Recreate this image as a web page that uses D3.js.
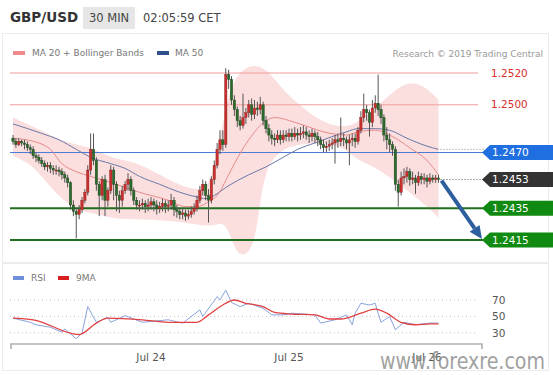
<!DOCTYPE html>
<html>
<head>
<meta charset="utf-8">
<script src="https://d3js.org/d3.v7.min.js"></script>
<style>
  body { margin: 0; background: #fff; }
  text { font-family: "DejaVu Sans", Verdana, sans-serif; }
</style>
</head>
<body>
<svg id="chart" width="553" height="375"></svg>
<script>
// 30 min candles, Jul 23 00:00 -> Jul 26 02:00
var startTime = Date.UTC(2019, 6, 23, 0, 0);
var barMinutes = 30;

var opens = [
1.2479,1.2477,1.2475,1.2477,1.2476,1.2475,1.2473,1.2472,1.2468,1.2467,
1.2465,1.2463,1.2461,1.2462,1.2460,1.2459,1.2459,1.2458,1.2456,1.2454,
1.2451,1.2437,1.2433,1.2431,1.2434,1.2440,1.2445,1.2459,1.2472,1.2465,
1.2450,1.2443,1.2453,1.2440,1.2446,1.2459,1.2450,1.2443,1.2440,1.2446,
1.2450,1.2453,1.2446,1.2440,1.2437,1.2437,1.2438,1.2436,1.2437,1.2439,
1.2437,1.2435,1.2436,1.2438,1.2436,1.2437,1.2440,1.2434,1.2433,1.2431,
1.2432,1.2430,1.2431,1.2433,1.2435,1.2440,1.2446,1.2450,1.2443,1.2440,
1.2453,1.2462,1.2472,1.2478,1.2475,1.2519,1.2516,1.2503,1.2497,1.2490,
1.2487,1.2492,1.2495,1.2500,1.2494,1.2498,1.2497,1.2500,1.2490,1.2485,
1.2481,1.2479,1.2478,1.2481,1.2478,1.2481,1.2480,1.2482,1.2480,1.2482,
1.2481,1.2482,1.2483,1.2481,1.2480,1.2482,1.2480,1.2478,1.2475,1.2473,
1.2474,1.2475,1.2476,1.2478,1.2477,1.2479,1.2478,1.2476,1.2478,1.2479,
1.2477,1.2484,1.2492,1.2497,1.2495,1.2489,1.2498,1.2501,1.2497,1.2492,
1.2481,1.2478,1.2475,1.2472,1.2450,1.2445,1.2454,1.2455,1.2458,1.2453,
1.2454,1.2451,1.2455,1.2453,1.2454,1.2452,1.2454,1.2453,1.2454
];
var highs = [
1.2481,1.2479,1.2479,1.2478,1.2478,1.2477,1.2475,1.2474,1.2470,1.2469,
1.2467,1.2465,1.2464,1.2464,1.2462,1.2462,1.2461,1.2460,1.2458,1.2456,
1.2452,1.2440,1.2435,1.2437,1.2442,1.2447,1.2462,1.2482,1.2482,1.2467,
1.2452,1.2455,1.2456,1.2448,1.2462,1.2461,1.2452,1.2446,1.2449,1.2452,
1.2457,1.2455,1.2448,1.2442,1.2440,1.2441,1.2440,1.2441,1.2442,1.2441,
1.2440,1.2439,1.2441,1.2440,1.2440,1.2444,1.2442,1.2437,1.2435,1.2435,
1.2434,1.2434,1.2436,1.2438,1.2443,1.2449,1.2453,1.2452,1.2447,1.2455,
1.2465,1.2476,1.2484,1.2484,1.2523,1.2522,1.2518,1.2506,1.2499,1.2493,
1.2507,1.2498,1.2503,1.2504,1.2503,1.2502,1.2505,1.2502,1.2493,1.2488,
1.2484,1.2482,1.2484,1.2484,1.2484,1.2484,1.2485,1.2485,1.2486,1.2485,
1.2486,1.2487,1.2486,1.2484,1.2485,1.2484,1.2483,1.2480,1.2478,1.2477,
1.2478,1.2479,1.2481,1.2482,1.2492,1.2482,1.2480,1.2481,1.2482,1.2482,
1.2486,1.2496,1.2507,1.2500,1.2497,1.2503,1.2506,1.2519,1.2500,1.2494,
1.2486,1.2482,1.2477,1.2474,1.2453,1.2458,1.2460,1.2461,1.2460,1.2458,
1.2456,1.2458,1.2457,1.2457,1.2456,1.2457,1.2456,1.2456,1.2456
];
var lows = [
1.2475,1.2473,1.2474,1.2474,1.2472,1.2471,1.2469,1.2466,1.2464,1.2463,
1.2461,1.2459,1.2458,1.2457,1.2456,1.2456,1.2455,1.2453,1.2451,1.2448,
1.2434,1.2430,1.2416,1.2428,1.2432,1.2438,1.2443,1.2456,1.2462,1.2446,
1.2430,1.2440,1.2430,1.2436,1.2444,1.2440,1.2433,1.2432,1.2436,1.2444,
1.2446,1.2443,1.2437,1.2434,1.2433,1.2434,1.2432,1.2433,1.2434,1.2433,
1.2431,1.2432,1.2433,1.2432,1.2433,1.2434,1.2430,1.2429,1.2428,1.2428,
1.2427,1.2428,1.2429,1.2431,1.2433,1.2438,1.2443,1.2440,1.2426,1.2438,
1.2450,1.2460,1.2469,1.2471,1.2473,1.2510,1.2500,1.2493,1.2486,1.2484,
1.2485,1.2488,1.2492,1.2490,1.2491,1.2493,1.2494,1.2487,1.2482,1.2477,
1.2475,1.2474,1.2476,1.2475,1.2476,1.2477,1.2477,1.2477,1.2478,1.2477,
1.2478,1.2479,1.2478,1.2476,1.2477,1.2476,1.2474,1.2472,1.2470,1.2470,
1.2471,1.2472,1.2463,1.2473,1.2474,1.2474,1.2472,1.2462,1.2474,1.2473,
1.2475,1.2482,1.2489,1.2490,1.2480,1.2486,1.2495,1.2493,1.2488,1.2477,
1.2472,1.2470,1.2468,1.2446,1.2436,1.2443,1.2450,1.2451,1.2449,1.2450,
1.2444,1.2449,1.2450,1.2450,1.2448,1.2450,1.2451,1.2451,1.2451
];
var closes = [
1.2477,1.2475,1.2477,1.2476,1.2475,1.2473,1.2472,1.2468,1.2467,1.2465,
1.2463,1.2461,1.2462,1.2460,1.2459,1.2459,1.2458,1.2456,1.2454,1.2451,
1.2437,1.2433,1.2431,1.2434,1.2440,1.2445,1.2459,1.2472,1.2465,1.2450,
1.2443,1.2453,1.2440,1.2446,1.2459,1.2450,1.2443,1.2440,1.2446,1.2450,
1.2453,1.2446,1.2440,1.2437,1.2437,1.2438,1.2436,1.2437,1.2439,1.2437,
1.2435,1.2436,1.2438,1.2436,1.2437,1.2440,1.2434,1.2433,1.2431,1.2432,
1.2430,1.2431,1.2433,1.2435,1.2440,1.2446,1.2450,1.2443,1.2440,1.2453,
1.2462,1.2472,1.2478,1.2475,1.2519,1.2516,1.2503,1.2497,1.2490,1.2487,
1.2492,1.2495,1.2500,1.2494,1.2498,1.2497,1.2500,1.2490,1.2485,1.2481,
1.2479,1.2478,1.2481,1.2478,1.2481,1.2480,1.2482,1.2480,1.2482,1.2481,
1.2482,1.2483,1.2481,1.2480,1.2482,1.2480,1.2478,1.2475,1.2473,1.2474,
1.2475,1.2476,1.2478,1.2477,1.2479,1.2478,1.2476,1.2478,1.2479,1.2477,
1.2484,1.2492,1.2497,1.2495,1.2489,1.2498,1.2501,1.2497,1.2492,1.2481,
1.2478,1.2475,1.2472,1.2450,1.2445,1.2454,1.2455,1.2458,1.2453,1.2454,
1.2451,1.2455,1.2453,1.2454,1.2452,1.2454,1.2453,1.2454,1.2453
];

// indicator readings (bar index, value)
var ma20Idx = [0,9,13,17,22,27,36,44,54,60,64,68,71,75,77,82,88,91,98,103,108,116,120,126,132,138,144,148];
var ma20Val = [1.2479,1.2476,1.2472,1.2463,1.2458,1.2455,1.2450,1.2445,1.2440,1.2436,1.2436,1.2439,1.2443,1.2456,1.2463,1.2478,1.2490,1.2492,1.2489,1.2486,1.2483,1.2481,1.2483,1.2484,1.2480,1.2473,1.2465,1.2456];
var ma50Idx = [0,10,16,22,27,34,39,44,51,58,64,67,70,74,82,88,94,99,105,111,116,120,126,131,137,144,148];
var ma50Val = [1.2488,1.2482,1.2478,1.2472,1.2467,1.2463,1.2460,1.2455,1.2450,1.2445,1.2442,1.2441,1.2443,1.2448,1.2456,1.2461,1.2467,1.2472,1.2476,1.2480,1.2483,1.2485,1.2485,1.2484,1.2479,1.2474,1.2472];
var bbUpIdx = [0,10,16,22,27,34,39,44,54,60,66,69,72,75,79,83,86,89,94,99,105,111,116,120,126,132,136,139,144,148];
var bbUpVal = [1.2492,1.2484,1.2478,1.2475,1.2473,1.2467,1.2465,1.2463,1.2453,1.2448,1.2446,1.2453,1.2478,1.2509,1.2521,1.2525,1.2524,1.2521,1.2509,1.2501,1.2492,1.2487,1.2486,1.2489,1.2498,1.2508,1.2513,1.2514,1.2511,1.2503];
var bbLoIdx = [0,6,10,16,22,27,34,39,48,60,66,70,74,77,80,84,86,88,91,94,99,105,111,116,120,126,132,138,144,148];
var bbLoVal = [1.2468,1.2463,1.2455,1.2442,1.2434,1.2432,1.2429,1.2428,1.2428,1.2426,1.2424,1.2424,1.2427,1.2409,1.2404,1.2411,1.2440,1.2459,1.2467,1.2472,1.2475,1.2476,1.2475,1.2472,1.2465,1.2461,1.2453,1.2445,1.2436,1.2429];

var rsiIdx = [0,6,8,13,17,18,22,24,26,29,33,34,39,45,54,59,65,66,71,72,74,76,79,82,87,90,94,97,105,107,112,116,118,119,121,124,126,127,128,131,133,136,140,145,148];
var rsiVal = [48,43,40,37,31,35,23,30,62,43,49,43,51,43,46,42,58,50,74,70,82,67,62,66,60,52,52,54,52,42,46,52,40,54,66,64,66,54,43,50,34,43,40,42,42];
var rsiMaIdx = [0,7,23,29,33,45,54,64,68,73,77,81,87,91,97,105,110,114,121,126,130,135,140,145,148];
var rsiMaVal = [48,46,28,42,48,46,43,43,52,64,70,66,62,55,53,52,47,47,54,59,54,43,40,41,41];
var rsiLevels = [70, 50, 30];

var resistLevels = [1.2520, 1.2500];
var pivotLevel = 1.2470;
var supportLevels = [1.2435, 1.2415];
var lastPrice = 1.2453;
var target = 1.2415;

var tickDates = [Date.UTC(2019,6,24), Date.UTC(2019,6,25), Date.UTC(2019,6,26)];
var tickLabels = ["Jul 24", "Jul 25", "Jul 26"];

var svg = d3.select("#chart");
var times = closes.map(function(d, i) { return new Date(startTime + i * barMinutes * 60000); });

var x = d3.scaleUtc().domain([times[0], times[times.length - 1]]).range([13, 438.5]);
var y = d3.scaleLinear().domain([1.2415, 1.2520]).range([240, 73]);
var yr = d3.scaleLinear().domain([30, 70]).range([333, 300]);
var fmt = d3.format(".4f");

// panels
svg.append("rect").attr("x", 2.5).attr("y", 33.5).attr("width", 546).attr("height", 229)
  .attr("fill", "#fff").attr("stroke", "#ececec");
svg.append("rect").attr("x", 2.5).attr("y", 263.5).attr("width", 546).attr("height", 107)
  .attr("fill", "#fff").attr("stroke", "#ececec");

// header
svg.append("text").attr("x", 10).attr("y", 22).attr("font-size", 13.5).attr("font-weight", "bold")
  .attr("fill", "#333").text("GBP/USD");
svg.append("rect").attr("x", 83).attr("y", 7).attr("width", 52).attr("height", 22).attr("fill", "#e6e6e6");
svg.append("text").attr("x", 89).attr("y", 22).attr("font-size", 11.5).attr("fill", "#444").text("30 MIN");
svg.append("text").attr("x", 143).attr("y", 22).attr("font-size", 11.5).attr("fill", "#444").text("02:05:59 CET");

// legend
svg.append("rect").attr("x", 13).attr("y", 51).attr("width", 12).attr("height", 4).attr("fill", "#f08a8a");
svg.append("text").attr("x", 32).attr("y", 56).attr("font-size", 9).attr("fill", "#777").text("MA 20 + Bollinger Bands");
svg.append("rect").attr("x", 157).attr("y", 51).attr("width", 12).attr("height", 4).attr("fill", "#2f4f8f");
svg.append("text").attr("x", 175).attr("y", 56).attr("font-size", 9).attr("fill", "#777").text("MA 50");
svg.append("text").attr("x", 543).attr("y", 57).attr("font-size", 9).attr("fill", "#999")
  .attr("text-anchor", "end").text("Research \u00a9 2019 Trading Central");

// bollinger band
function pts(idx, val, sc) { return idx.map(function(d, i) { return [x(times[d]), sc(val[i])]; }); }
var basis = d3.line().curve(d3.curveBasis);
var upPath = basis(pts(bbUpIdx, bbUpVal, y));
var loPath = basis(pts(bbLoIdx, bbLoVal, y).reverse());
svg.append("path").attr("d", upPath + "L" + loPath.slice(1) + "Z")
  .attr("fill", "#f8c4c4").attr("opacity", 0.55);

// level lines
resistLevels.forEach(function(v) {
  svg.append("line").attr("x1", 10).attr("x2", 478).attr("y1", y(v)).attr("y2", y(v))
    .attr("stroke", "#f29c9c").attr("stroke-width", 1);
  svg.append("text").attr("x", 491).attr("y", y(v)).attr("dy", "0.35em").attr("font-size", 10.5)
    .attr("fill", "#d9302c").text(fmt(v));
});
svg.append("line").attr("x1", 10).attr("x2", 484).attr("y1", y(pivotLevel)).attr("y2", y(pivotLevel))
  .attr("stroke", "#4a7ad8").attr("stroke-width", 1);
supportLevels.forEach(function(v) {
  svg.append("line").attr("x1", 10).attr("x2", 484).attr("y1", y(v)).attr("y2", y(v))
    .attr("stroke", "#1f6e1f").attr("stroke-width", 2);
});

// moving averages
var smooth = d3.line().curve(d3.curveMonotoneX);
svg.append("path").attr("d", smooth(pts(ma50Idx, ma50Val, y)))
  .attr("fill", "none").attr("stroke", "#6a78a8").attr("stroke-width", 1);
svg.append("path").attr("d", smooth(pts(ma20Idx, ma20Val, y)))
  .attr("fill", "none").attr("stroke", "#e88a8a").attr("stroke-width", 1);

// candles
var bars = svg.append("g").selectAll("g").data(closes).enter().append("g");
bars.append("line")
  .attr("x1", function(d, i) { return x(times[i]); })
  .attr("x2", function(d, i) { return x(times[i]); })
  .attr("y1", function(d, i) { return y(highs[i]); })
  .attr("y2", function(d, i) { return y(lows[i]); })
  .attr("stroke", "#555").attr("stroke-width", 1);
bars.append("rect")
  .attr("x", function(d, i) { return x(times[i]) - 1.2; })
  .attr("width", 2.4)
  .attr("y", function(d, i) { return y(Math.max(opens[i], d)); })
  .attr("height", function(d, i) { return Math.max(1, Math.abs(y(opens[i]) - y(d))); })
  .attr("fill", function(d, i) { return d >= opens[i] ? "#c8302e" : "#2c6a2c"; })
  .attr("stroke", function(d, i) { return d >= opens[i] ? "#8c1c1c" : "#1a421a"; })
  .attr("stroke-width", 0.4);

// dotted pointers to the labels
var lastX = x(times[times.length - 1]);
svg.append("line").attr("x1", lastX + 2).attr("x2", 484)
  .attr("y1", y(ma50Val[ma50Val.length - 1])).attr("y2", y(ma50Val[ma50Val.length - 1]))
  .attr("stroke", "#888").attr("stroke-dasharray", "1,2");
svg.append("line").attr("x1", lastX + 2).attr("x2", 484).attr("y1", y(lastPrice)).attr("y2", y(lastPrice))
  .attr("stroke", "#555").attr("stroke-dasharray", "1,2");

// arrow to target
var ax1 = lastX + 3, ay1 = y(lastPrice) + 1, ax2 = 482, ay2 = y(target) - 1;
var ang = Math.atan2(ay2 - ay1, ax2 - ax1);
var headLen = 13, headW = 6;
var bx = ax2 - headLen * Math.cos(ang), by = ay2 - headLen * Math.sin(ang);
svg.append("line").attr("x1", ax1).attr("y1", ay1).attr("x2", bx).attr("y2", by)
  .attr("stroke", "#2d5e9e").attr("stroke-width", 4);
svg.append("path").attr("d", "M" + ax2 + "," + ay2 +
    "L" + (bx + headW * Math.sin(ang)) + "," + (by - headW * Math.cos(ang)) +
    "L" + (bx - headW * Math.sin(ang)) + "," + (by + headW * Math.cos(ang)) + "Z")
  .attr("fill", "#2d5e9e");

// price tags
function tag(v, color) {
  var cy = y(v);
  svg.append("path").attr("d", "M482," + cy + "L490," + (cy - 7.5) + "L553," + (cy - 7.5) +
      "L553," + (cy + 7.5) + "L490," + (cy + 7.5) + "Z").attr("fill", color);
  svg.append("text").attr("x", 492).attr("y", cy).attr("dy", "0.36em").attr("font-size", 10.5)
    .attr("fill", "#fff").text(fmt(v));
}
tag(pivotLevel, "#1f6fe0");
tag(lastPrice, "#333");
supportLevels.forEach(function(v) { tag(v, "#118a11"); });

// RSI panel
svg.append("rect").attr("x", 13).attr("y", 276).attr("width", 11).attr("height", 4).attr("fill", "#6f8fd8");
svg.append("text").attr("x", 31).attr("y", 281).attr("font-size", 9).attr("fill", "#777").text("RSI");
svg.append("rect").attr("x", 58).attr("y", 276).attr("width", 11).attr("height", 4).attr("fill", "#d81e1e");
svg.append("text").attr("x", 76).attr("y", 281).attr("font-size", 9).attr("fill", "#777").text("9MA");

rsiLevels.forEach(function(v) {
  svg.append("line").attr("x1", 10).attr("x2", 478).attr("y1", yr(v)).attr("y2", yr(v))
    .attr("stroke", "#c4c4c4").attr("stroke-dasharray", "1,3");
  svg.append("text").attr("x", 492).attr("y", yr(v)).attr("dy", "0.35em").attr("font-size", 10.5)
    .attr("fill", "#555").text(v);
});
svg.append("path").attr("d", d3.line()(pts(rsiIdx, rsiVal, yr)))
  .attr("fill", "none").attr("stroke", "#8aa2dc").attr("stroke-width", 1);
svg.append("path").attr("d", smooth(pts(rsiMaIdx, rsiMaVal, yr)))
  .attr("fill", "none").attr("stroke", "#e04040").attr("stroke-width", 1.3);

// time axis
var xAxis = svg.append("g").attr("transform", "translate(0,344)");
xAxis.append("path").attr("d", "M11,349V344H482V349").attr("transform", "translate(0,-344)")
  .attr("fill", "none").attr("stroke", "#b0b0b0").attr("stroke-width", 1.6);
xAxis.selectAll("text").data(tickDates).enter().append("text")
  .attr("x", function(d) { return x(new Date(d)); }).attr("y", 17)
  .attr("text-anchor", "middle").attr("font-size", 10.5).attr("fill", "#555")
  .text(function(d, i) { return tickLabels[i]; });

// watermark
svg.append("text").attr("x", 380).attr("y", 369).attr("font-family", "Liberation Sans, Arial, sans-serif")
  .attr("font-size", 23).attr("fill", "#8a8a8a").attr("opacity", 0.8)
  .attr("textLength", 165).attr("lengthAdjust", "spacingAndGlyphs").text("www.forexre.com");
</script>
</body>
</html>
